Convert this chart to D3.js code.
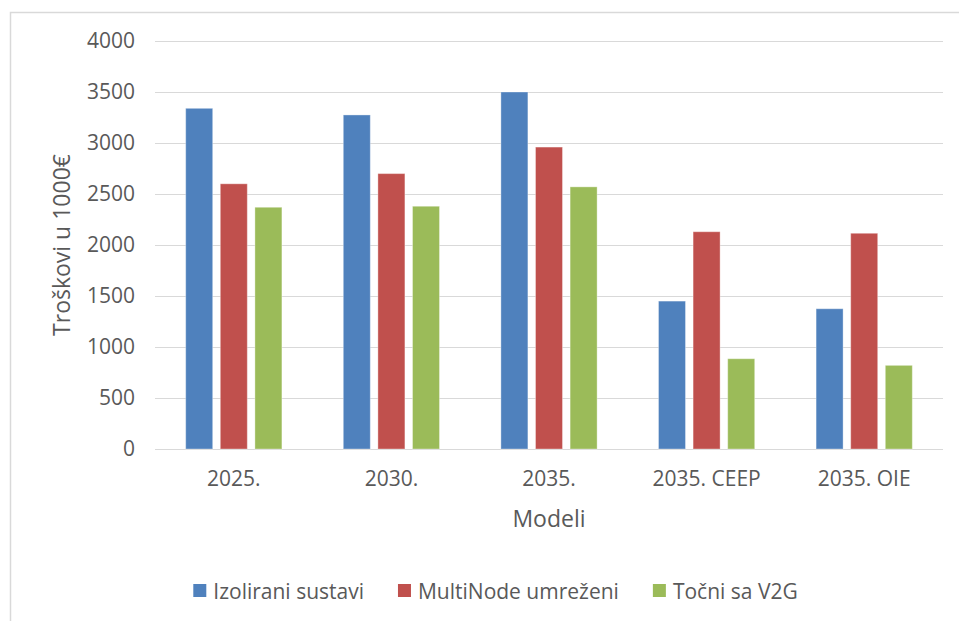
<!DOCTYPE html>
<html>
<head>
<meta charset="utf-8">
<script src="https://cdn.jsdelivr.net/npm/d3@7"></script>
<style>
  html, body { margin: 0; padding: 0; background: #fff; }
  svg { display: block; }
  text { font-family: "Open Sans", "Noto Sans", sans-serif; fill: #595959; }
</style>
</head>
<body>
<svg id="chart" width="959" height="621"></svg>
<script>
// Chart data
const categories = ["2025.", "2030.", "2035.", "2035. CEEP", "2035. OIE"];
const seriesNames = ["Izolirani sustavi", "MultiNode umreženi", "Točni sa V2G"];
const izolirani = [3340, 3275, 3500, 1450, 1375];
const multiNode = [2600, 2700, 2960, 2130, 2115];
const tocniV2G = [2370, 2380, 2570, 885, 820];
const seriesColors = ["#4f81bd", "#c0504d", "#9bbb59"];
const yTicks = [0, 500, 1000, 1500, 2000, 2500, 3000, 3500, 4000];
const yTitle = "Troškovi u 1000€";
const xTitle = "Modeli";

const seriesValues = [izolirani, multiNode, tocniV2G];
const rows = categories.map((c, i) => ({
  category: c,
  values: seriesNames.map((s, k) => ({ series: s, value: seriesValues[k][i], color: seriesColors[k] }))
}));

const svg = d3.select("#chart");
const W = 959, H = 621;
const plot = { left: 155, right: 943, top: 41, bottom: 449 };

// Outer chart frame (only top and left edges are inside the view)
svg.append("path")
  .attr("d", `M10.5,${H + 2} L10.5,12.5 L${W + 2},12.5`)
  .attr("fill", "none")
  .attr("stroke", "#d9d9d9")
  .attr("stroke-width", 1.5);

const x0 = d3.scaleBand().domain(categories).range([plot.left, plot.right]).padding(0);
const x1 = d3.scaleBand().domain(seriesNames).range([0, x0.bandwidth()])
  .paddingInner(0.22).paddingOuter(0.887);
const y = d3.scaleLinear().domain([0, 4000]).range([plot.bottom, plot.top]);

// Horizontal gridlines and value labels
const yAxis = d3.axisLeft(y).tickValues(yTicks).tickSize(-(plot.right - plot.left)).tickPadding(20)
  .tickFormat(d3.format("d"));
const gy = svg.append("g").attr("transform", `translate(${plot.left},0)`).call(yAxis);
gy.select(".domain").remove();
gy.selectAll(".tick line").attr("stroke", "#d9d9d9").attr("stroke-width", 1.2);
gy.selectAll(".tick text")
  .attr("font-size", 21)
  .attr("fill", "#595959")
  .attr("font-family", "'Open Sans', sans-serif");

// Bars
const groups = svg.append("g").selectAll("g")
  .data(rows).join("g")
  .attr("transform", d => `translate(${x0(d.category)},0)`);
groups.selectAll("rect")
  .data(d => d.values).join("rect")
  .attr("x", d => x1(d.series))
  .attr("width", x1.bandwidth())
  .attr("y", d => y(d.value))
  .attr("height", d => y(0) - y(d.value))
  .attr("fill", d => d.color)
  .attr("stroke", "rgba(255,255,255,0.35)")
  .attr("stroke-width", 1);

// Category labels
const xAxis = d3.axisBottom(x0).tickSize(0).tickPadding(22);
const gx = svg.append("g").attr("transform", `translate(0,${plot.bottom})`).call(xAxis);
gx.select(".domain").remove();
gx.selectAll(".tick text")
  .attr("font-size", 21)
  .attr("fill", "#595959")
  .attr("font-family", "'Open Sans', sans-serif");

// Axis titles
svg.append("text")
  .attr("transform", `translate(70,${(plot.top + plot.bottom) / 2}) rotate(-90)`)
  .attr("text-anchor", "middle")
  .attr("font-size", 23)
  .text(yTitle);

svg.append("text")
  .attr("x", (plot.left + plot.right) / 2)
  .attr("y", 527)
  .attr("text-anchor", "middle")
  .attr("font-size", 23)
  .text(xTitle);

// Legend
const legend = svg.append("g");
const items = legend.selectAll("g").data(seriesNames).join("g");
items.append("rect")
  .attr("width", 13).attr("height", 13)
  .attr("y", 584)
  .attr("fill", (d, i) => seriesColors[i]);
items.append("text")
  .attr("x", 20).attr("y", 599)
  .attr("font-size", 21)
  .text(d => d);
let cursor = 0;
const gap = 34;
items.each(function () {
  const g = d3.select(this);
  const w = 20 + g.select("text").node().getComputedTextLength();
  g.attr("data-x", cursor).attr("data-w", w);
  cursor += w + gap;
});
const total = cursor - gap;
const startX = 495.5 - total / 2;
items.attr("transform", function () {
  return `translate(${startX + (+this.getAttribute("data-x"))},0)`;
});
</script>
</body>
</html>
